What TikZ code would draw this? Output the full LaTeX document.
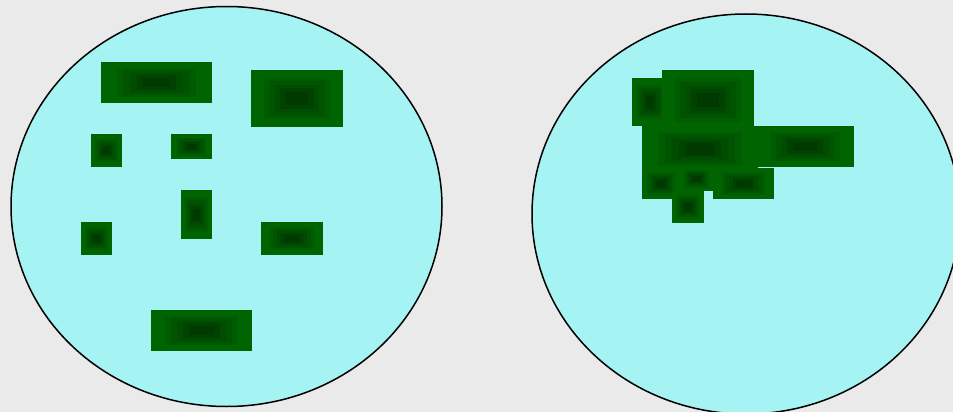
\documentclass[tikz,border=0pt]{standalone}
\usetikzlibrary{positioning}
\definecolor{bggray}{RGB}{234, 234, 234}
\definecolor{poolcyan}{RGB}{166, 243, 243}
\definecolor{blobgreen}{RGB}{0, 100, 0}

% a green patch, darker towards its middle: corners (x1,y1) (x2,y2)
\newcommand{\patch}[4]{%
  \foreach \s/\k in {1/100, 0.72/92, 0.6/84, 0.48/76, 0.36/66, 0.24/58} {
    \fill[blobgreen!\k!black]
      ({(#1+#3)/2-\s*(#3-#1)/2}, {(#2+#4)/2-\s*(#4-#2)/2}) rectangle
      ({(#1+#3)/2+\s*(#3-#1)/2}, {(#2+#4)/2+\s*(#4-#2)/2});
  }}

\begin{document}
\begin{tikzpicture}[x=1pt, y=-1pt,
    pool/.style={draw=black, fill=poolcyan, line width=1.5pt}]
  \useasboundingbox (0,0) rectangle (953,412);
  \fill[bggray] (0,0) rectangle (953,412);
  \clip (0,0) rectangle (953,412);

  % left pool, patches spread out
  \draw[pool] (226.5,206.5) ellipse [x radius=215.5, y radius=200];
  \patch{101}{62}{212}{103}
  \patch{251}{70}{343}{127}
  \patch{91}{134}{122}{167}
  \patch{171}{134}{212}{159}
  \patch{181}{190}{212}{239}
  \patch{81}{222}{112}{255}
  \patch{261}{222}{323}{255}
  \patch{151}{310}{252}{351}

  % right pool, patches clumped together
  \draw[pool] (746,214) ellipse [x radius=214, y radius=200];
  \patch{632}{78}{668}{126}
  \patch{662}{70}{754}{130}
  \patch{642}{126}{758}{172}
  \patch{756}{126}{854}{167}
  \patch{642}{168}{680}{199}
  \patch{679}{167}{714}{191}
  \patch{713}{168}{774}{199}
  \patch{672}{191}{704}{223}
\end{tikzpicture}
\end{document}
